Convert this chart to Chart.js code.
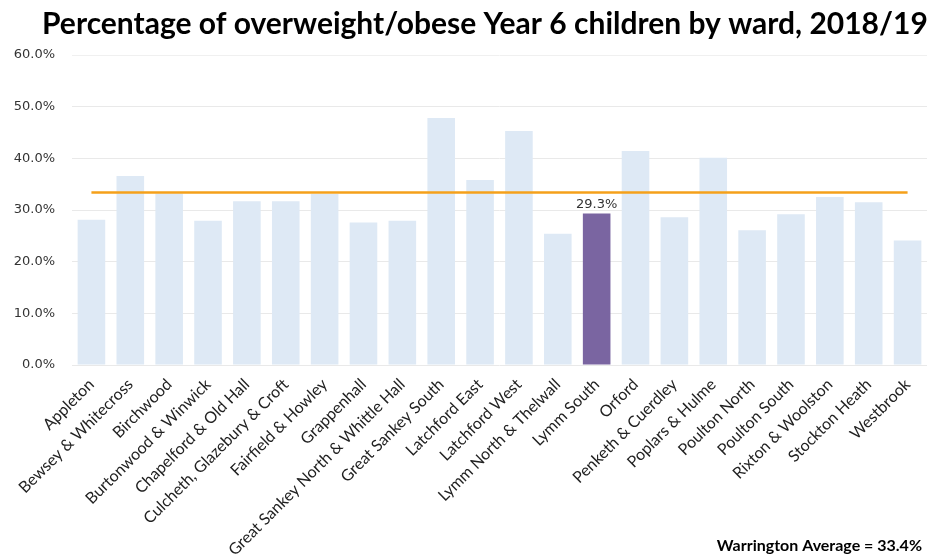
<!DOCTYPE html>
<html>
<head>
<meta charset="utf-8">
<title>Overweight/obese Year 6 children by ward</title>
<script src="https://cdn.jsdelivr.net/npm/chart.js@4"></script>
<style>
  html, body { margin: 0; padding: 0; background: #fff; }
  #wrap { width: 927px; height: 555px; position: relative; }
</style>
</head>
<body>
<div id="wrap"><canvas id="myChart"></canvas></div>
<script>
// Data
const wards = [
    "Appleton", "Bewsey & Whitecross", "Birchwood", "Burtonwood & Winwick",
    "Chapelford & Old Hall", "Culcheth, Glazebury & Croft", "Fairfield & Howley",
    "Grappenhall", "Great Sankey North & Whittle Hall", "Great Sankey South",
    "Latchford East", "Latchford West", "Lymm North & Thelwall", "Lymm South",
    "Orford", "Penketh & Cuerdley", "Poplars & Hulme", "Poulton North",
    "Poulton South", "Rixton & Woolston", "Stockton Heath", "Westbrook"
];
const percentages = [
    28.1, 36.6, 33.2, 27.9,
    31.7, 31.7, 33.1,
    27.6, 27.9, 47.8,
    35.8, 45.3, 25.4, 29.3,
    41.4, 28.6, 40.1, 26.1,
    29.2, 32.5, 31.5, 24.1
];
const warringtonAvg = 33.4;
const highlightWard = "Lymm South";
const yTicks = [0, 10, 20, 30, 40, 50, 60];

const titleText = "Percentage of overweight/obese Year 6 children by ward, 2018/19";
const noteText = "Warrington Average = " + warringtonAvg.toFixed(1) + "%";

const barColors = wards.map(w => w === highlightWard ? "#7a65a1" : "#dee9f5");

// title, footnote and the single data label
const extrasPlugin = {
    id: "extras",
    afterDatasetsDraw(chart) {
        const ctx = chart.ctx;
        const i = wards.indexOf(highlightWard);
        const bar = chart.getDatasetMeta(1).data[i];
        ctx.save();
        ctx.font = "13px 'DejaVu Sans'";
        ctx.fillStyle = "#333";
        ctx.textAlign = "center";
        ctx.textBaseline = "bottom";
        ctx.fillText(percentages[i].toFixed(1) + "%", bar.x, bar.y - 2);
        ctx.restore();
    },
    afterDraw(chart) {
        const ctx = chart.ctx;
        ctx.save();
        ctx.fillStyle = "#000";
        ctx.textBaseline = "alphabetic";
        ctx.font = "bold 30px Lato";
        ctx.textAlign = "left";
        ctx.fillText(titleText, 42, 34);
        ctx.font = "bold 16px Lato";
        ctx.textAlign = "right";
        ctx.fillText(noteText, 922, 551);
        ctx.restore();
    }
};

const ctx = document.getElementById("myChart").getContext("2d");
const myChart = new Chart(ctx, {
    data: {
        labels: wards,
        datasets: [{
            type: "line",
            label: "Warrington Average",
            data: wards.map(() => warringtonAvg),
            borderColor: "#f5a01a",
            borderWidth: 2.5,
            pointRadius: 0,
            fill: false,
            order: 0
        }, {
            type: "bar",
            label: "Overweight/obese",
            data: percentages,
            backgroundColor: barColors,
            barPercentage: 0.71,
            categoryPercentage: 1,
            order: 1
        }]
    },
    options: {
        responsive: true,
        maintainAspectRatio: false,
        animation: false,
        layout: { padding: { top: 55, left: 0, right: 0, bottom: 0 } },
        plugins: {
            legend: { display: false },
            tooltip: { enabled: false }
        },
        scales: {
            x: {
                grid: { display: false },
                border: { display: false },
                ticks: {
                    color: "#222",
                    font: { family: "Lato", size: 16 },
                    maxRotation: 45,
                    minRotation: 45,
                    autoSkip: false,
                    padding: 2
                },
                afterFit(scale) { scale.height = 190; }
            },
            y: {
                min: 0,
                max: 60,
                afterBuildTicks(scale) { scale.ticks = yTicks.map(v => ({ value: v })); },
                grid: {
                    color: c => c.tick && c.tick.value === 60 ? "#f0f0f0" : "#e9e9e9",
                    lineWidth: 1,
                    drawTicks: false
                },
                border: { display: false },
                ticks: {
                    color: "#333",
                    font: { family: "DejaVu Sans", size: 13 },
                    padding: 17,
                    callback: v => v.toFixed(1) + "%"
                },
                afterFit(scale) { scale.width = 72; }
            }
        }
    },
    plugins: [extrasPlugin]
});
</script>
</body>
</html>
